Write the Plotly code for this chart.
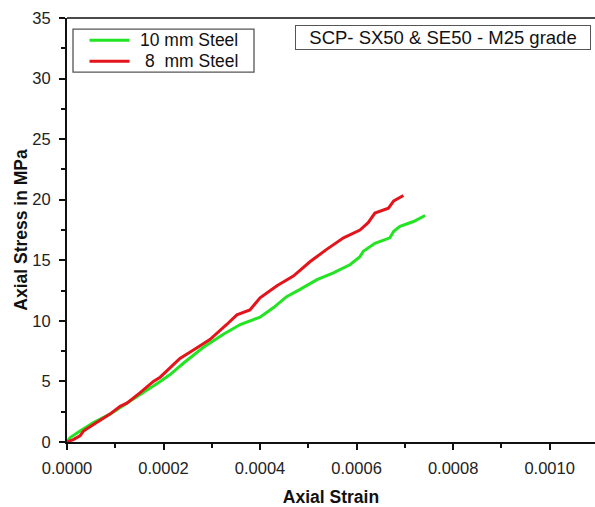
import plotly.graph_objects as go

# ---- data ----
strain_10mm = [0, 0.000006, 0.000027, 0.000055, 0.000089, 0.000124, 0.000158, 0.000193,
               0.000213, 0.000241, 0.000282, 0.000324, 0.000359, 0.000400, 0.000428,
               0.000455, 0.000483, 0.000518, 0.000552, 0.000587, 0.000607, 0.000614,
               0.000638, 0.000669, 0.000677, 0.000690, 0.000718, 0.000742]
stress_10mm = [0, 0.35, 0.9, 1.6, 2.3, 3.2, 4.05, 5.0,
               5.55, 6.5, 7.8, 8.9, 9.7, 10.3, 11.1,
               12.0, 12.6, 13.4, 13.96, 14.65, 15.3, 15.75,
               16.4, 16.85, 17.4, 17.8, 18.2, 18.7]

strain_8mm = [0, 0.000013, 0.000027, 0.000034, 0.000055, 0.000089, 0.000110, 0.000124,
              0.000151, 0.000179, 0.000193, 0.000213, 0.000234, 0.000262, 0.000296,
              0.000331, 0.000352, 0.000379, 0.000400, 0.000435, 0.000469, 0.000504,
              0.000538, 0.000573, 0.000607, 0.000624, 0.000638, 0.000666, 0.000677,
              0.000697]
stress_8mm = [0, 0.2, 0.5, 0.9, 1.45, 2.3, 2.95, 3.2,
              4.05, 5.0, 5.35, 6.1, 6.9, 7.6, 8.45,
              9.7, 10.5, 10.9, 11.9, 12.9, 13.7, 14.9,
              15.9, 16.85, 17.5, 18.1, 18.9, 19.3, 19.9,
              20.35]

series_names = ["10 mm Steel", "8\u00a0\u00a0mm Steel"]
series_colors = ["#22e422", "#e3141b"]

x_tickvals = [0, 0.0002, 0.0004, 0.0006, 0.0008, 0.0010]
x_ticktext = ["0.0000", "0.0002", "0.0004", "0.0006", "0.0008", "0.0010"]
y_tickvals = [0, 5, 10, 15, 20, 25, 30, 35]

x_title = "Axial Strain"
y_title = "Axial Stress in MPa"
box_text = "SCP- SX50 & SE50 - M25 grade"

FONT = "Liberation Sans, Arial, sans-serif"

# plot-area pixel geometry (used only for placing the legend box / label box)
L, T, W, H = 67, 18.3, 528, 424.2


def px(xp):
    return (xp - L) / W


def py(yp):
    return (T + H - yp) / H


fig = go.Figure()
fig.add_trace(go.Scatter(x=strain_10mm, y=stress_10mm, mode="lines", name=series_names[0],
                         line=dict(color=series_colors[0], width=3), showlegend=False))
fig.add_trace(go.Scatter(x=strain_8mm, y=stress_8mm, mode="lines", name=series_names[1],
                         line=dict(color=series_colors[1], width=3), showlegend=False))

# legend drawn as a framed box with sample lines and text
legend_rows_y = [40.5, 61.5]
shapes = [
    dict(type="line", xref="paper", yref="paper", x0=0, x1=1, y0=1, y1=1,
         line=dict(color="#4a4a4a", width=2)),
    dict(type="rect", xref="paper", yref="paper", x0=px(73), x1=px(254), y0=py(72.5), y1=py(29.5),
         line=dict(color="#555555", width=1.3), fillcolor="white", layer="above"),
]
annotations = []
for name, color, ry in zip(series_names, series_colors, legend_rows_y):
    shapes.append(dict(type="line", xref="paper", yref="paper", x0=px(89.5), x1=px(129.5),
                       y0=py(ry), y1=py(ry), line=dict(color=color, width=3), layer="above"))
    annotations.append(dict(xref="paper", yref="paper", x=px(240), y=py(ry),
                            xanchor="right", yanchor="middle", showarrow=False, text=name,
                            font=dict(family=FONT, size=17.5, color="#111111")))

annotations.append(dict(xref="paper", yref="paper", x=px(443), y=py(37.5),
                        xanchor="center", yanchor="middle", showarrow=False,
                        text=box_text, width=292, align="center",
                        font=dict(family=FONT, size=18.5, color="#111111"),
                        bordercolor="#555555", borderwidth=1, borderpad=1, bgcolor="white"))

fig.update_layout(
    width=595, height=507,
    margin=dict(l=67, r=0, t=18, b=65),
    paper_bgcolor="white", plot_bgcolor="white",
    font=dict(family=FONT, color="#222222", size=16),
    showlegend=False,
    xaxis=dict(range=[0, 0.001094], tickvals=x_tickvals, ticktext=x_ticktext,
               showgrid=False, zeroline=False,
               showline=True, linecolor="#111111", linewidth=2,
               ticks="outside", ticklen=6, tickwidth=1.5, tickcolor="#111111",
               minor=dict(dtick=0.0001, ticks="outside", ticklen=4, tickwidth=1.5,
                          tickcolor="#111111", showgrid=False),
               tickfont=dict(size=16.5, color="#222222"),
               ticklabelstandoff=4,
               title=dict(text="<b>" + x_title + "</b>", font=dict(size=17.5, color="#111111"),
                          standoff=16)),
    yaxis=dict(range=[0, 35], tickvals=y_tickvals,
               showgrid=False, zeroline=False,
               showline=True, linecolor="#111111", linewidth=2,
               ticks="outside", ticklen=6, tickwidth=1.5, tickcolor="#111111",
               minor=dict(dtick=2.5, ticks="outside", ticklen=4, tickwidth=1.5,
                          tickcolor="#111111", showgrid=False),
               tickfont=dict(size=16.5, color="#222222"),
               ticklabelstandoff=5,
               title=dict(text="<b>" + y_title + "</b>", font=dict(size=17.5, color="#111111"),
                          standoff=0)),
    shapes=shapes,
    annotations=annotations,
)

fig.write_html("out.html")
